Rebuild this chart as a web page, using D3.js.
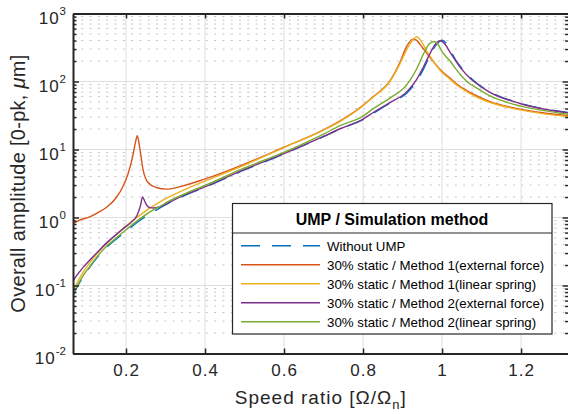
<!DOCTYPE html>
<html>
<head>
<meta charset="utf-8">
<script src="https://cdnjs.cloudflare.com/ajax/libs/d3/7.8.5/d3.min.js"></script>
<style>
body { margin: 0; background: #fff; }
svg { font-family: "Liberation Sans", Arial, sans-serif; }
</style>
</head>
<body>
<svg width="568" height="414"></svg>
<script>
// tick values / labels
var speedTicks = [0.2, 0.4, 0.6, 0.8, 1, 1.2];
var speedTickLabels = ["0.2", "0.4", "0.6", "0.8", "1", "1.2"];
var ampTicks = [0.01, 0.1, 1, 10, 100, 1000];
var ampTickExponents = ["-2", "-1", "0", "1", "2", "3"];

var seriesNames = [
    "Without UMP",
    "30% static / Method 1(external force)",
    "30% static / Method 1(linear spring)",
    "30% static / Method 2(external force)",
    "30% static / Method 2(linear spring)"
];

// [speed ratio, amplitude um]
var withoutUMP = [
    [0.066, 0.071], [0.075, 0.092], [0.09, 0.13], [0.108, 0.185], [0.13, 0.27], [0.15, 0.36],
    [0.175, 0.48], [0.2, 0.63], [0.22, 0.78], [0.243, 0.98], [0.265, 1.18], [0.286, 1.38],
    [0.31, 1.65], [0.34, 2.0], [0.37, 2.38], [0.395, 2.71], [0.5, 5.0], [0.598, 8.5],
    [0.7, 15.5], [0.742, 20], [0.8, 27.5], [0.826, 34], [0.868, 48], [0.911, 68],
    [0.935, 100], [0.953, 152], [0.97, 245], [0.985, 345], [1.0, 405], [1.012, 355],
    [1.022, 280], [1.035, 205], [1.048, 162], [1.071, 116], [1.079, 104], [1.12, 71],
    [1.197, 48], [1.25, 40.5], [1.32, 35]
];
var method1External = [
    [0.066, 0.80], [0.08, 0.90], [0.108, 1.02], [0.13, 1.19], [0.15, 1.40], [0.1755, 1.97],
    [0.192, 2.83], [0.205, 4.35], [0.218, 8.5], [0.224, 12.8], [0.2286, 15.9], [0.2346, 10.7],
    [0.243, 5.1], [0.2557, 3.27], [0.277, 2.76], [0.302, 2.61], [0.344, 2.92], [0.395, 3.6],
    [0.5, 6.1], [0.598, 10.7], [0.7, 19.5], [0.742, 26.4], [0.792, 41], [0.826, 60],
    [0.868, 102], [0.894, 195], [0.91, 325], [0.926, 420], [0.935, 405], [0.945, 345],
    [0.961, 262], [0.98, 190], [0.995, 150], [1.02, 112], [1.037, 92], [1.071, 69],
    [1.079, 65], [1.12, 51], [1.197, 39.3], [1.25, 35], [1.32, 31.3]
];
var method1Spring = [
    [0.066, 0.0836], [0.075, 0.107], [0.09, 0.152], [0.108, 0.215], [0.13, 0.31], [0.15, 0.41],
    [0.175, 0.56], [0.2, 0.75], [0.22, 0.93], [0.243, 1.17], [0.265, 1.43], [0.286, 1.70],
    [0.31, 2.02], [0.34, 2.45], [0.37, 2.92], [0.395, 3.35], [0.5, 5.9], [0.598, 10.6],
    [0.7, 19.3], [0.742, 26], [0.792, 40.5], [0.826, 59], [0.868, 100], [0.894, 185],
    [0.91, 290], [0.926, 410], [0.936, 454], [0.946, 400], [0.961, 280], [0.98, 192],
    [0.995, 146], [1.02, 108], [1.037, 89], [1.071, 66.5], [1.079, 62.5], [1.12, 49.5],
    [1.197, 38.3], [1.25, 34], [1.32, 30.5]
];
var method2External = [
    [0.066, 0.117], [0.075, 0.14], [0.09, 0.18], [0.108, 0.235], [0.13, 0.32], [0.15, 0.42],
    [0.175, 0.56], [0.2, 0.74], [0.215, 0.87], [0.228, 1.08], [0.236, 1.45], [0.242, 2.0],
    [0.247, 1.75], [0.253, 1.5], [0.26, 1.40], [0.27, 1.38], [0.286, 1.44], [0.31, 1.68],
    [0.34, 2.04], [0.37, 2.42], [0.395, 2.75], [0.5, 5.1], [0.598, 8.6], [0.7, 15.6],
    [0.742, 20.2], [0.8, 28], [0.826, 35], [0.868, 49], [0.911, 71], [0.935, 106],
    [0.953, 165], [0.97, 262], [0.984, 360], [0.996, 398], [1.008, 350], [1.02, 270],
    [1.035, 200], [1.048, 156], [1.071, 112], [1.079, 102], [1.12, 70], [1.197, 47.5],
    [1.25, 40], [1.32, 34.5]
];
var method2Spring = [
    [0.066, 0.073], [0.075, 0.095], [0.09, 0.135], [0.108, 0.19], [0.13, 0.28], [0.15, 0.375],
    [0.175, 0.50], [0.2, 0.66], [0.22, 0.82], [0.243, 1.03], [0.265, 1.25], [0.286, 1.46],
    [0.31, 1.75], [0.34, 2.12], [0.37, 2.53], [0.395, 2.88], [0.5, 5.35], [0.598, 9.0],
    [0.7, 16.8], [0.742, 22.4], [0.8, 31], [0.826, 40], [0.868, 57], [0.911, 90],
    [0.935, 150], [0.953, 255], [0.968, 360], [0.98, 388], [0.99, 350], [1.0, 275],
    [1.02, 200], [1.046, 127], [1.071, 92], [1.079, 86.5], [1.12, 62], [1.197, 43.8],
    [1.25, 38], [1.32, 33]
];

var seriesData = [withoutUMP, method1External, method1Spring, method2External, method2Spring];
var colors = ["#0072BD", "#D95319", "#EDB120", "#7E2F8E", "#77AC30"];

var svg = d3.select("svg");
var plotLeft = 73, plotRight = 568.6, plotTop = 13.5, plotBottom = 353.5;
var ink = "#262626";

var x = d3.scaleLinear()
    .domain([0.0658, 1.3203])
    .range([plotLeft, plotRight]);

var y = d3.scaleLog()
    .domain([0.01, 1000])
    .range([plotBottom, plotTop]);

// minor log positions
var ampMinor = [];
ampTicks.slice(0, -1).forEach(function (d) {
    for (var k = 2; k <= 9; k++) ampMinor.push(d * k);
});

// grid
var grid = svg.append("g");
grid.append("g").selectAll("line")
    .data(ampMinor)
    .join("line")
    .attr("x1", plotLeft).attr("x2", plotRight)
    .attr("y1", d => y(d)).attr("y2", d => y(d))
    .attr("stroke", "#c4c4c4")
    .attr("stroke-dasharray", "2,6.3");
grid.append("g").selectAll("line")
    .data(ampTicks)
    .join("line")
    .attr("x1", plotLeft).attr("x2", plotRight)
    .attr("y1", d => y(d)).attr("y2", d => y(d))
    .attr("stroke", "#dedede");
grid.append("g").selectAll("line")
    .data(speedTicks)
    .join("line")
    .attr("x1", d => x(d)).attr("x2", d => x(d))
    .attr("y1", plotTop).attr("y2", plotBottom)
    .attr("stroke", "#dedede");

// curves
svg.append("clipPath").attr("id", "clip")
    .append("rect")
    .attr("x", plotLeft).attr("y", plotTop)
    .attr("width", plotRight - plotLeft).attr("height", plotBottom - plotTop);

var line = d3.line()
    .x(d => x(d[0]))
    .y(d => y(d[1]))
    .curve(d3.curveMonotoneX);

svg.append("g")
    .attr("clip-path", "url(#clip)")
    .selectAll("path")
    .data(seriesData)
    .join("path")
    .attr("d", line)
    .attr("fill", "none")
    .attr("stroke", (d, i) => colors[i])
    .attr("stroke-width", 1.4)
    .attr("stroke-dasharray", (d, i) => i == 0 ? "18,12" : null);

// axes
function styleAxis(g) {
    g.select(".domain").attr("stroke", ink).attr("stroke-width", 2);
    g.selectAll(".tick line").attr("stroke", ink).attr("stroke-width", 1.5);
    g.selectAll("text").attr("fill", ink);
}

svg.append("g")
    .attr("transform", "translate(0," + plotBottom + ")")
    .call(d3.axisBottom(x).tickValues(speedTicks).tickSizeInner(-5).tickSizeOuter(0)
        .tickPadding(10).tickFormat((d, i) => speedTickLabels[i]))
    .call(styleAxis)
    .attr("font-family", null)
    .selectAll("text")
    .attr("font-size", "17px")
    .attr("letter-spacing", "1px");

svg.append("g")
    .attr("transform", "translate(0," + plotTop + ")")
    .call(d3.axisTop(x).tickValues(speedTicks).tickSizeInner(-5).tickSizeOuter(0).tickFormat(""))
    .call(styleAxis);

var yLeft = svg.append("g")
    .attr("transform", "translate(" + plotLeft + ",0)")
    .call(d3.axisLeft(y).tickValues(ampTicks).tickSizeInner(-6).tickSizeOuter(0).tickPadding(7).tickFormat(""))
    .call(styleAxis)
    .attr("font-family", null);

yLeft.selectAll(".tick text")
    .attr("font-size", "17px")
    .attr("dy", "0.58em")
    .each(function (d, i) {
        var t = d3.select(this);
        t.append("tspan").attr("letter-spacing", "1px").text("10");
        t.append("tspan").attr("dy", "-9").attr("font-size", "11.5px").text(ampTickExponents[i]);
    });

svg.append("g")
    .attr("transform", "translate(" + plotLeft + ",0)")
    .call(d3.axisLeft(y).tickValues(ampMinor).tickSizeInner(-3.5).tickSizeOuter(0).tickFormat(""))
    .call(styleAxis)
    .select(".domain").remove();

svg.append("g")
    .attr("transform", "translate(" + plotRight + ",0)")
    .call(d3.axisRight(y).tickValues(ampTicks).tickSizeInner(-6).tickSizeOuter(0).tickFormat(""))
    .call(styleAxis);

svg.append("g")
    .attr("transform", "translate(" + plotRight + ",0)")
    .call(d3.axisRight(y).tickValues(ampMinor).tickSizeInner(-3.5).tickSizeOuter(0).tickFormat(""))
    .call(styleAxis)
    .select(".domain").remove();

// axis labels
var xLabel = svg.append("text")
    .attr("x", (plotLeft + plotRight) / 2)
    .attr("y", 404)
    .attr("text-anchor", "middle")
    .attr("font-size", "19px")
    .attr("letter-spacing", "1px")
    .attr("fill", ink);
xLabel.append("tspan").text("Speed ratio [\u03A9/\u03A9");
xLabel.append("tspan").attr("font-size", "13px").attr("dy", 5).text("n");
xLabel.append("tspan").attr("dy", -5).text("]");

var yLabel = svg.append("text")
    .attr("transform", "translate(25," + (plotTop + plotBottom) / 2 + ") rotate(-90)")
    .attr("text-anchor", "middle")
    .attr("font-size", "20px")
    .attr("letter-spacing", "0.3px")
    .attr("fill", ink);
yLabel.append("tspan").text("Overall amplitude [0-pk, ");
yLabel.append("tspan").attr("font-style", "italic").text("\u03BC");
yLabel.append("tspan").text("m]");

// legend
var legend = svg.append("g");
legend.append("rect")
    .attr("x", 232.5).attr("y", 203.5)
    .attr("width", 319.5).attr("height", 130.5)
    .attr("fill", "#fff")
    .attr("stroke", ink)
    .attr("stroke-width", 1.2);
legend.append("line")
    .attr("x1", 232.5).attr("x2", 552)
    .attr("y1", 233).attr("y2", 233)
    .attr("stroke", ink)
    .attr("stroke-width", 1);
legend.append("text")
    .attr("x", 392).attr("y", 225)
    .attr("text-anchor", "middle")
    .attr("font-size", "16px")
    .attr("font-weight", "bold")
    .attr("fill", "#000")
    .text("UMP / Simulation method");

var entry = legend.selectAll(".entry")
    .data(seriesNames)
    .join("g")
    .attr("transform", (d, i) => "translate(0," + (245.8 + i * 19) + ")");
entry.append("line")
    .attr("x1", 241).attr("x2", 320)
    .attr("stroke", (d, i) => colors[i])
    .attr("stroke-width", 1.4)
    .attr("stroke-dasharray", (d, i) => i == 0 ? "19,12" : null);
entry.append("text")
    .attr("x", 327)
    .attr("dy", "0.36em")
    .attr("font-size", "13.3px")
    .attr("fill", "#000")
    .text(d => d);
</script>
</body>
</html>
